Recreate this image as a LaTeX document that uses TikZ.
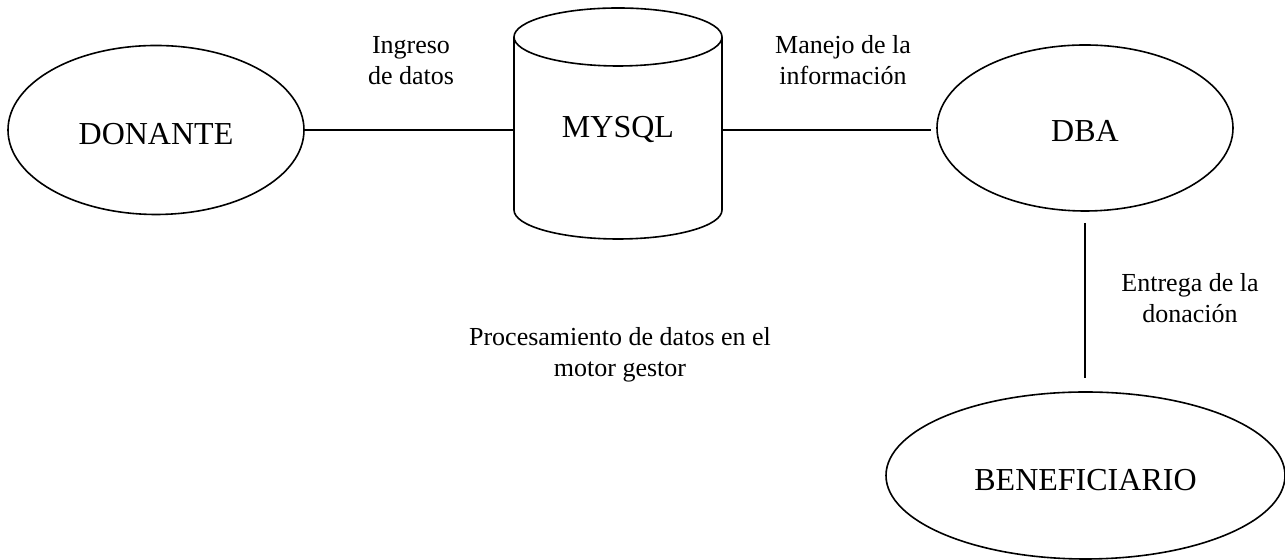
\documentclass[tikz,border=0pt]{standalone}
\usepackage{fontspec}
\setmainfont{Liberation Serif}
\usetikzlibrary{shapes.geometric}

\begin{document}
\begin{tikzpicture}[x=0.5pt,y=0.5pt,line width=0.8pt,
  entidad/.style={draw,ellipse,inner sep=0pt,text depth=0pt,font=\fontsize{16}{19}\selectfont},
  etiqueta/.style={align=center,inner sep=0pt,font=\fontsize{13}{15.5}\selectfont}]
\useasboundingbox (0,0) rectangle (1285,560);
\node[entidad,minimum width=148pt,minimum height=84.5pt,text height=14.1pt] (donante) at (156,430) {DONANTE};
\node[entidad,minimum width=148pt,minimum height=83pt,text height=13.6pt] (dba) at (1085,432) {DBA};
\node[entidad,minimum width=199.5pt,minimum height=83.5pt,text height=15.1pt] (benef) at (1085.5,84.5) {BENEFICIARIO};
% base de datos
\node[inner sep=0pt,minimum width=104pt,font=\fontsize{16}{19}\selectfont] (mysql) at (618,430) {MYSQL};
\draw (618,523) ellipse [x radius=104, y radius=29];
\draw (514,523) -- (514,350) arc [start angle=180, end angle=360, x radius=104, y radius=29] -- (722,523);
\draw (donante.east) -- (donante.east -| mysql.west);
\draw[shorten >=2.5pt] (mysql.east) -- (mysql.east -| dba.west);
\draw[shorten <=5.5pt,shorten >=6.5pt] (dba.south) -- (dba.south |- benef.north);
\node[etiqueta] (ingreso) at (411,499.5) {Ingreso\\de datos};
\node[etiqueta] (manejo) at (843,500) {Manejo de la\\información};
\node[etiqueta] (entrega) at (1190,262) {Entrega de la\\donación};
\node[etiqueta] (proceso) at (620,205) {Procesamiento de datos en el\\motor gestor};
\end{tikzpicture}
\end{document}
